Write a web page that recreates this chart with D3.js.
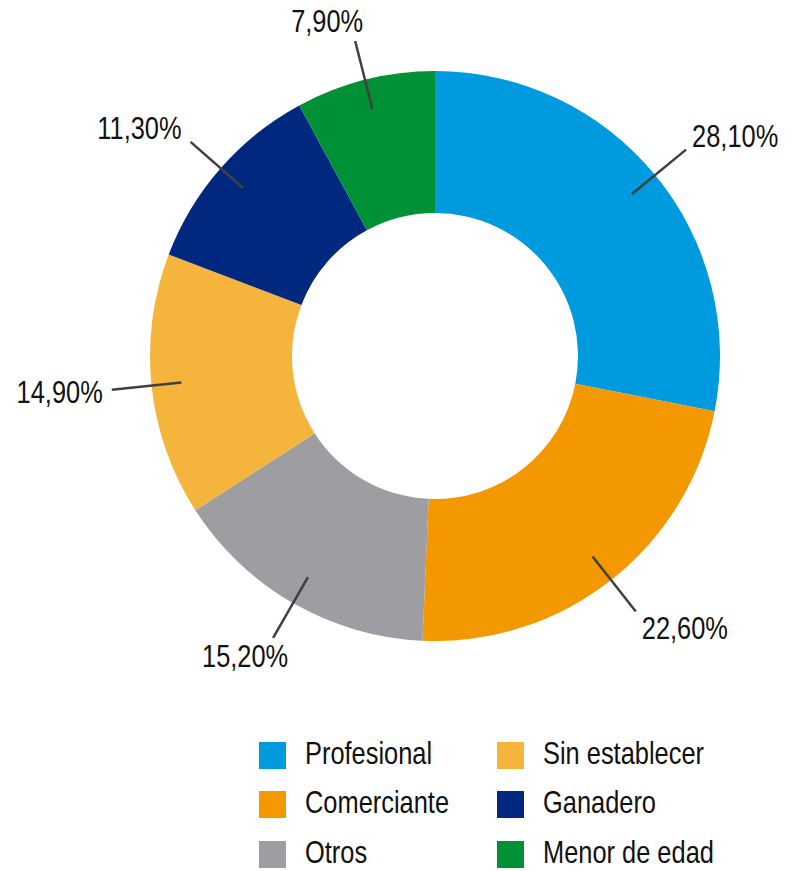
<!DOCTYPE html>
<html>
<head>
<meta charset="utf-8">
<script src="https://cdn.jsdelivr.net/npm/d3@7"></script>
<style>
  body { margin: 0; background: #fff; }
  text { font-family: "Liberation Sans Narrow", "Arial Narrow", "Liberation Sans", Arial, sans-serif; fill: #111; }
</style>
</head>
<body>
<svg id="chart"></svg>
<script>
const width = 792;
const height = 871;

// data
const categories = ["Profesional", "Comerciante", "Otros", "Sin establecer", "Ganadero", "Menor de edad"];
const values = [28.1, 22.6, 15.2, 14.9, 11.3, 7.9];
const colors = ["#009ade", "#f39800", "#9d9da2", "#f5b43c", "#00287f", "#009035"];
// legend is laid out in two columns, in this order
const legendOrder = ["Profesional", "Comerciante", "Otros", "Sin establecer", "Ganadero", "Menor de edad"];

const svg = d3.select("#chart")
  .attr("width", width)
  .attr("height", height);

const cx = 435, cy = 356;
const outerR = 285, innerR = 143;

const color = d3.scaleOrdinal().domain(categories).range(colors);

const slices = categories.map((c, i) => ({ name: c, value: values[i] }));

const pie = d3.pie()
  .value(d => d.value)
  .sort(null);

const arc = d3.arc()
  .innerRadius(innerR)
  .outerRadius(outerR);

const g = svg.append("g").attr("transform", `translate(${cx},${cy})`);

const arcs = pie(slices);

g.selectAll("path.slice")
  .data(arcs)
  .join("path")
  .attr("class", "slice")
  .attr("d", arc)
  .attr("fill", d => color(d.data.name));

// the original uses a narrow face; squeeze the regular one if no narrow font is around
const narrow = 0.82;
const fontSize = 31;
const capH = fontSize * 0.716;

function narrowText(parent, x, y, anchor, str) {
  return parent.append("g")
    .attr("transform", `translate(${x},${y}) scale(${narrow},1)`)
    .append("text")
    .attr("text-anchor", anchor)
    .attr("font-size", fontSize)
    .text(str);
}

// leader lines + labels
const fmt = v => v.toFixed(2).replace(".", ",") + "%";
const lineFrom = 255, lineTo = 325;

arcs.forEach(d => {
  const a = (d.startAngle + d.endAngle) / 2;
  const s = Math.sin(a), c = Math.cos(a);
  const x1 = s * lineFrom, y1 = -c * lineFrom;
  const x2 = s * lineTo, y2 = -c * lineTo;

  g.append("line")
    .attr("x1", x1).attr("y1", y1)
    .attr("x2", x2).attr("y2", y2)
    .attr("stroke", "#404040")
    .attr("stroke-width", 2.5);

  let anchor, tx;
  if (s > 0.2) { anchor = "start"; tx = x2 + 6; }
  else if (s < -0.55) { anchor = "end"; tx = x2 - 9; }
  else { anchor = "middle"; tx = x2 + Math.sign(s) * 28; }
  const ty = y2 - c * 21 + capH / 2;

  narrowText(g, tx, ty, anchor, fmt(d.data.value));
});

// legend
const legend = svg.append("g").attr("class", "legend");
const colX = [259, 497];
const rowY = [742, 791, 841];
const box = 27;

legendOrder.forEach((name, i) => {
  const col = Math.floor(i / 3), row = i % 3;
  const item = legend.append("g")
    .attr("transform", `translate(${colX[col]},${rowY[row]})`);
  item.append("rect")
    .attr("width", box)
    .attr("height", box)
    .attr("fill", color(name));
  narrowText(item, 46, box / 2 + capH / 2 - 3, "start", name);
});
</script>
</body>
</html>
